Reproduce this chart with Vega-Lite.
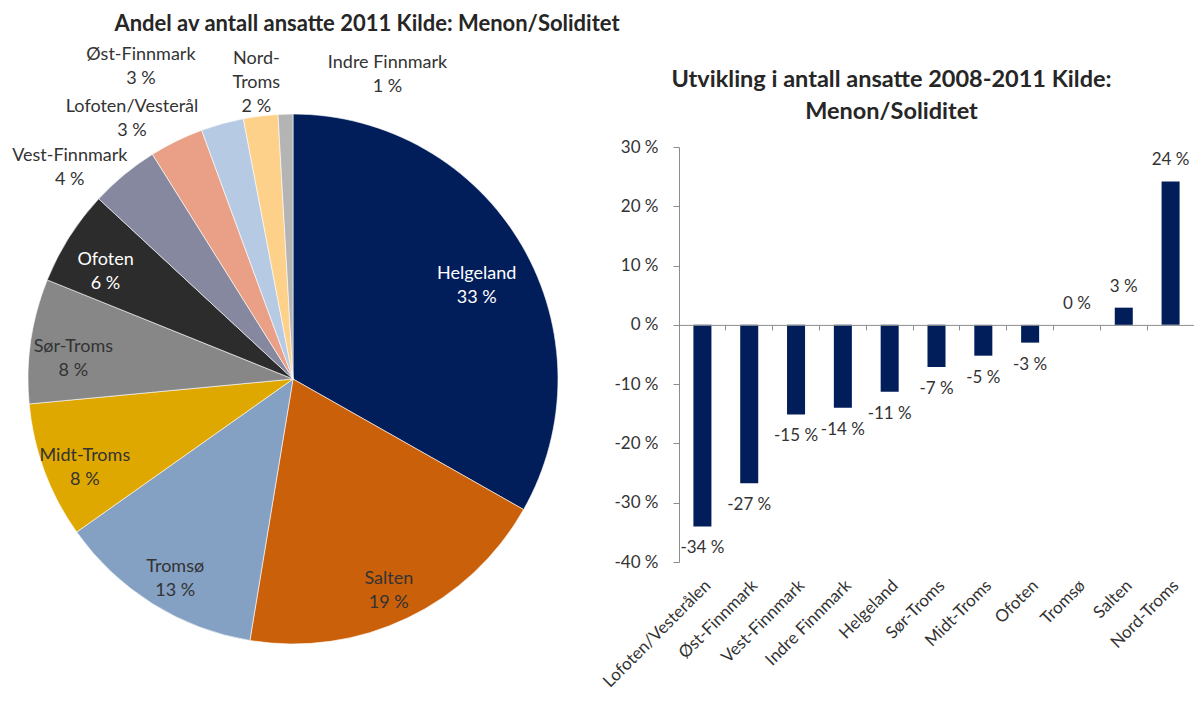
{
  "$schema": "https://vega.github.io/schema/vega-lite/v6.json",
  "padding": {"left": 12, "top": 12, "right": 0, "bottom": 0},
  "background": "#ffffff",
  "config": {"view": {"stroke": null}, "font": "Lato"},
  "datasets": {
    "pie": [
      {"region": "Helgeland", "share": 33.2},
      {"region": "Salten", "share": 19.4},
      {"region": "Tromsø", "share": 12.6},
      {"region": "Midt-Troms", "share": 8.3},
      {"region": "Sør-Troms", "share": 7.6},
      {"region": "Ofoten", "share": 5.8},
      {"region": "Vest-Finnmark", "share": 4.2},
      {"region": "Lofoten/Vesterål", "share": 3.3},
      {"region": "Øst-Finnmark", "share": 2.6},
      {"region": "Nord-Troms", "share": 2.1},
      {"region": "Indre Finnmark", "share": 0.9}
    ],
    "bars": [
      {"region": "Lofoten/Vesterålen", "change": -34.0},
      {"region": "Øst-Finnmark", "change": -26.7},
      {"region": "Vest-Finnmark", "change": -15.1},
      {"region": "Indre Finnmark", "change": -14.0},
      {"region": "Helgeland", "change": -11.3},
      {"region": "Sør-Troms", "change": -7.1},
      {"region": "Midt-Troms", "change": -5.2},
      {"region": "Ofoten", "change": -3.0},
      {"region": "Tromsø", "change": 0.0},
      {"region": "Salten", "change": 2.9},
      {"region": "Nord-Troms", "change": 24.2}
    ]
  },
  "hconcat": [
    {
      "width": 560,
      "height": 464,
      "data": {"name": "pie"},
      "title": {
        "text": "Andel av antall ansatte 2011 Kilde: Menon/Soliditet",
        "anchor": "middle", "frame": "group", "dx": 74, "dy": -6,
        "font": "Lato", "fontSize": 22, "fontWeight": "bold", "color": "#262626"
      },
      "transform": [
        {"window": [{"op": "row_number", "as": "idx"}]},
        {"stack": "share", "groupby": [], "sort": [{"field": "idx", "order": "ascending"}], "offset": "normalize", "as": ["t0", "t1"]},
        {"calculate": "(datum.t0 + datum.t1) / 2", "as": "tmid"},
        {"calculate": "[datum.region, round(datum.share) + ' %']", "as": "lab"}
      ],
      "layer": [
        {
          "mark": {"type": "arc", "radius": 265, "stroke": "#ffffff", "strokeWidth": 0.6},
          "encoding": {
            "theta": {"field": "t0", "type": "quantitative", "scale": {"domain": [0, 1]}},
            "theta2": {"field": "t1"},
            "color": {
              "field": "region", "type": "nominal", "legend": null,
              "scale": {
                "domain": ["Helgeland", "Salten", "Tromsø", "Midt-Troms", "Sør-Troms", "Ofoten", "Vest-Finnmark", "Lofoten/Vesterål", "Øst-Finnmark", "Nord-Troms", "Indre Finnmark"],
                "range": ["#021E5A", "#CB600A", "#84A0C3", "#DFA800", "#878787", "#2C2C2C", "#85889E", "#E9A086", "#B7CAE4", "#FDD18A", "#B4B4B4"]
              }
            }
          }
        },
        {
          "transform": [{"filter": "datum.share > 5 && datum.region != 'Helgeland'"}],
          "mark": {"type": "text", "radius": 222, "font": "Lato", "fontSize": 18, "lineHeight": 24},
          "encoding": {
            "theta": {"field": "tmid", "type": "quantitative", "stack": null},
            "text": {"field": "lab", "type": "nominal"},
            "color": {"condition": {"test": "datum.region == 'Ofoten'", "value": "#ffffff"}, "value": "#333333"}
          }
        },
        {
          "transform": [{"filter": "datum.region == 'Helgeland'"}],
          "mark": {"type": "text", "radius": 208, "dx": 4, "font": "Lato", "fontSize": 18, "lineHeight": 24, "color": "#ffffff"},
          "encoding": {
            "theta": {"field": "tmid", "type": "quantitative", "stack": null},
            "text": {"field": "lab", "type": "nominal"}
          }
        },
        {
          "transform": [{"filter": "datum.region == 'Vest-Finnmark'"}],
          "mark": {"type": "text", "radius": 300, "dx": -32, "dy": 8, "font": "Lato", "fontSize": 18, "lineHeight": 24, "color": "#333333"},
          "encoding": {
            "theta": {"field": "tmid", "type": "quantitative", "stack": null},
            "text": {"field": "lab", "type": "nominal"}
          }
        },
        {
          "transform": [{"filter": "datum.region == 'Lofoten/Vesterål'"}],
          "mark": {"type": "text", "radius": 300, "dx": -29, "dy": -3, "font": "Lato", "fontSize": 18, "lineHeight": 24, "color": "#333333"},
          "encoding": {
            "theta": {"field": "tmid", "type": "quantitative", "stack": null},
            "text": {"field": "lab", "type": "nominal"}
          }
        },
        {
          "transform": [{"filter": "datum.region == 'Øst-Finnmark'"}],
          "mark": {"type": "text", "radius": 300, "dx": -72, "dy": -35, "font": "Lato", "fontSize": 18, "lineHeight": 24, "color": "#333333"},
          "encoding": {
            "theta": {"field": "tmid", "type": "quantitative", "stack": null},
            "text": {"field": "lab", "type": "nominal"}
          }
        },
        {
          "transform": [
            {"filter": "datum.region == 'Nord-Troms'"},
            {"calculate": "[split(datum.region, '-')[0] + '-', split(datum.region, '-')[1], round(datum.share) + ' %']", "as": "lab3"}
          ],
          "mark": {"type": "text", "radius": 300, "dx": 0, "dy": -22, "font": "Lato", "fontSize": 18, "lineHeight": 24, "color": "#333333"},
          "encoding": {
            "theta": {"field": "tmid", "type": "quantitative", "stack": null},
            "text": {"field": "lab3", "type": "nominal"}
          }
        },
        {
          "transform": [{"filter": "datum.region == 'Indre Finnmark'"}],
          "mark": {"type": "text", "radius": 300, "dx": 103, "dy": -16, "font": "Lato", "fontSize": 18, "lineHeight": 24, "color": "#333333"},
          "encoding": {
            "theta": {"field": "tmid", "type": "quantitative", "stack": null},
            "text": {"field": "lab", "type": "nominal"}
          }
        }
      ]
    },
    {
      "width": 515,
      "height": 415,
      "data": {"name": "bars"},
      "title": {
        "text": ["Utvikling i antall ansatte 2008-2011 Kilde:", "Menon/Soliditet"],
        "anchor": "middle", "frame": "group", "dx": -45, "dy": -11, "lineHeight": 32,
        "font": "Lato", "fontSize": 23.5, "fontWeight": "bold", "color": "#262626"
      },
      "transform": [
        {"calculate": "round(datum.change) + ' %'", "as": "vlab"}
      ],
      "layer": [
        {
          "encoding": {
            "x": {
              "field": "region", "type": "nominal", "sort": null,
              "scale": {"paddingInner": 0.615, "paddingOuter": 0.3075},
              "axis": {
                "title": null, "labelAngle": -45, "labelFont": "Lato", "labelFontSize": 17,
                "labelColor": "#333333", "ticks": false, "domain": false, "labelPadding": 15
              }
            },
            "y": {
              "field": "change", "type": "quantitative",
              "scale": {"domain": [-40, 30], "nice": false, "zero": false},
              "axis": {
                "title": null, "values": [-40, -30, -20, -10, 0, 10, 20, 30],
                "labelExpr": "datum.value + ' %'", "labelFont": "Lato", "labelFontSize": 17,
                "labelColor": "#333333", "grid": false, "domainColor": "#8C8C8C",
                "tickColor": "#8C8C8C", "tickSize": 6, "labelPadding": 15
              }
            }
          },
          "layer": [
            {"mark": {"type": "bar", "color": "#021E5A"}},
            {
              "transform": [{"filter": "datum.change < 0"}],
              "mark": {"type": "text", "dy": 22, "font": "Lato", "fontSize": 17, "color": "#333333"},
              "encoding": {"text": {"field": "vlab", "type": "nominal"}}
            },
            {
              "transform": [{"filter": "datum.change >= 0"}],
              "mark": {"type": "text", "dy": -21, "font": "Lato", "fontSize": 17, "color": "#333333"},
              "encoding": {"text": {"field": "vlab", "type": "nominal"}}
            }
          ]
        },
        {
          "mark": {"type": "bar", "opacity": 0},
          "encoding": {
            "x": {
              "field": "region", "type": "nominal", "sort": null,
              "scale": {"paddingInner": 0, "paddingOuter": 0},
              "axis": {
                "title": null, "orient": "bottom", "offset": -237.1, "labels": false,
                "ticks": true, "domain": true, "bandPosition": 0, "tickSize": 5,
                "domainColor": "#8C8C8C", "tickColor": "#8C8C8C", "zindex": 1
              }
            }
          }
        }
      ],
      "resolve": {"scale": {"x": "independent"}}
    }
  ],
  "spacing": 106,
  "bounds": "flush"
}
